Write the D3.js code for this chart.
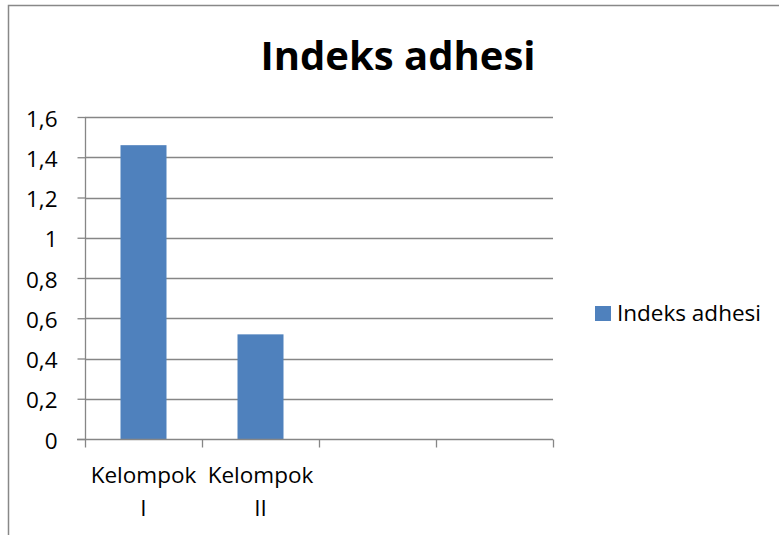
<!DOCTYPE html>
<html>
<head>
<meta charset="utf-8">
<script src="https://cdn.jsdelivr.net/npm/d3@7"></script>
<style>
  body { margin: 0; background: #fff; }
  svg { display: block; font-family: "Open Sans", "Noto Sans", sans-serif; }
</style>
</head>
<body>
<div id="chart"></div>
<script>
const categories = ["Kelompok I", "Kelompok II", "", ""];
const values = [1.46, 0.52, null, null];
const yTicks = [0, 0.2, 0.4, 0.6, 0.8, 1, 1.2, 1.4, 1.6];
const seriesName = "Indeks adhesi";

const W = 779, H = 535;
const plot = { left: 85, right: 553, top: 117, bottom: 439 };
const barColor = "#4f81bd";

const svg = d3.select("#chart").append("svg")
  .attr("width", W).attr("height", H);

svg.append("rect").attr("x", 0).attr("y", 0).attr("width", W).attr("height", H).attr("fill", "#fff");
// chart frame
svg.append("path").attr("d", `M8.5 ${H} V5.5 H${W}`)
  .attr("fill", "none").attr("stroke", "#888").attr("stroke-width", 1.5);

svg.append("text")
  .attr("x", 398).attr("y", 70)
  .attr("text-anchor", "middle")
  .attr("font-size", 40).attr("font-weight", "bold")
  .text("Indeks adhesi");

const x = d3.scaleBand().domain(d3.range(categories.length)).range([plot.left, plot.right]);
const y = d3.scaleLinear().domain([0, 1.6]).range([plot.bottom, plot.top]);
const fmt = v => String(+v.toFixed(1)).replace(".", ",");

// gridlines
svg.append("g").selectAll("line").data(yTicks.filter(d => d > 0)).join("line")
  .attr("x1", plot.left).attr("x2", plot.right)
  .attr("y1", d => Math.round(y(d)) + 0.5).attr("y2", d => Math.round(y(d)) + 0.5)
  .attr("stroke", "#868686").attr("stroke-width", 1.3);

// y axis
const yAxis = svg.append("g").attr("transform", `translate(${plot.left + 0.5},0)`)
  .call(d3.axisLeft(y).tickValues(yTicks).tickFormat(fmt).tickSize(8).tickPadding(20));
yAxis.selectAll("line").attr("stroke", "#868686").attr("stroke-width", 1.3);
yAxis.select(".domain").attr("stroke", "#868686").attr("stroke-width", 1.3).attr("d", `M0 ${plot.top}V${plot.bottom}`);
yAxis.selectAll("text").attr("font-size", 22.5).attr("fill", "#000")
  .attr("font-family", "Open Sans, sans-serif").attr("dy", "0.4em");

// bars
const barW = 46;
svg.append("g").selectAll("rect").data(values.map((v, i) => ({ v, i })).filter(d => d.v != null)).join("rect")
  .attr("x", d => x(d.i) + x.bandwidth() / 2 - barW / 2)
  .attr("width", barW)
  .attr("y", d => y(d.v))
  .attr("height", d => y(0) - y(d.v))
  .attr("fill", barColor);

// x axis
const xAxisG = svg.append("g").attr("transform", `translate(0,${plot.bottom + 0.5})`);
xAxisG.append("line").attr("x1", plot.left - 8).attr("x2", plot.right)
  .attr("stroke", "#868686").attr("stroke-width", 1.3);
xAxisG.selectAll("line.tick").data(d3.range(categories.length + 1)).join("line")
  .attr("class", "tick")
  .attr("x1", i => plot.left + i * x.step() + 0.5).attr("x2", i => plot.left + i * x.step() + 0.5)
  .attr("y1", 0).attr("y2", 8)
  .attr("stroke", "#868686").attr("stroke-width", 1.3);
const labels = xAxisG.selectAll("text").data(categories).join("text")
  .attr("text-anchor", "middle").attr("font-size", 22.5);
labels.each(function (d, i) {
  const parts = d.split(" ");
  const t = d3.select(this);
  parts.forEach((p, k) => {
    t.append("tspan").attr("x", x(i) + x.bandwidth() / 2).attr("y", 43 + k * 33).text(p);
  });
});

// legend
const lg = svg.append("g").attr("transform", "translate(595,306)");
lg.append("rect").attr("width", 16).attr("height", 15).attr("fill", barColor);
lg.append("text").attr("x", 22).attr("y", 15).attr("font-size", 22.5).text(seriesName);
</script>
</body>
</html>
